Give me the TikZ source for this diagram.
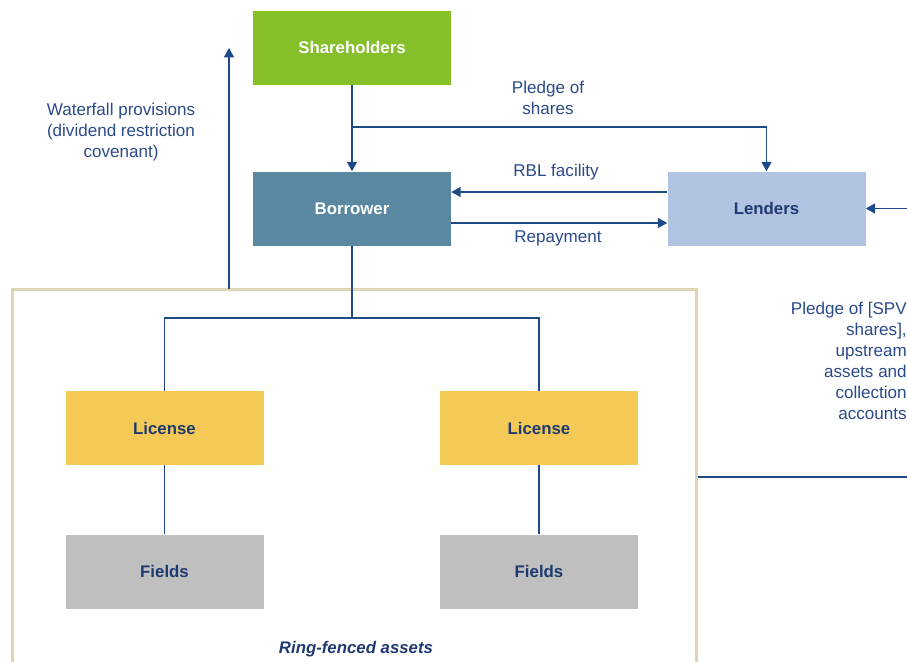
\documentclass[tikz,border=0pt]{standalone}
\usepackage{fontspec}
\setmainfont{Liberation Sans}
\usetikzlibrary{arrows.meta}
\definecolor{shgreen}{HTML}{85BF2A}
\definecolor{borblue}{HTML}{5B88A1}
\definecolor{lendblue}{HTML}{B0C3E0}
\definecolor{licyellow}{HTML}{F5C955}
\definecolor{fieldgray}{HTML}{BFBFBF}
\definecolor{ringbeige}{HTML}{DDD5B3}
\definecolor{linkblue}{HTML}{1F4A8A}
\definecolor{textblue}{HTML}{2B4A8A}
\definecolor{navy}{HTML}{1F3A70}
\begin{document}
\begin{tikzpicture}[x=0.75pt,y=-0.75pt,
    entity/.style={minimum width=148.5pt,minimum height=55.5pt,inner sep=0pt,
      font=\fontsize{12.6}{15}\selectfont\bfseries},
    link/.style={draw=linkblue,line width=1.1pt},
    flow/.style={link,-{Triangle[length=7pt,width=7.5pt]}},
    note/.style={text=textblue,align=center,inner sep=0pt,
      font=\fontsize{12.8}{15.75}\selectfont}]
  \useasboundingbox (0,0) rectangle (907,661);
  % ring-fenced frame (runs past the bottom edge)
  \node [draw=ringbeige,line width=2.25pt,minimum width=513pt,minimum height=308pt,
    inner sep=0pt] (ring) at (354,494.5) {};
  % entities
  \node [entity,fill=shgreen,text=white] (share) at (352,47.5) {Shareholders};
  \node [entity,fill=borblue,text=white] (bor) at (352,208.5) {Borrower};
  \node [entity,fill=lendblue,text=navy] (lend) at (766.5,208.5) {Lenders};
  \node [entity,fill=licyellow,text=navy] (lic1) at (164.5,428) {License};
  \node [entity,fill=licyellow,text=navy] (lic2) at (539,428) {License};
  \node [entity,fill=fieldgray,text=navy] (fld1) at (164.5,571.5) {Fields};
  \node [entity,fill=fieldgray,text=navy] (fld2) at (539,571.5) {Fields};
  % helper coordinates
  \coordinate (split) at (352,127);
  \coordinate (rbl) at (0,192);
  \coordinate (repay) at (0,223);
  \coordinate (bus) at (0,318);
  \coordinate (wfbase) at (229,289);
  \coordinate (wftop) at (229,48);
  \coordinate (secin) at (910,0);
  \coordinate (secout) at (910,477);
  % connectors
  \draw [flow] (share.south) -- (bor.north);
  \draw [flow] (split) -| (lend.north);
  \draw [flow] (lend.west |- rbl) -- (bor.east |- rbl);
  \draw [flow] (bor.east |- repay) -- (lend.west |- repay);
  \draw [flow] (secin |- lend.east) -- (lend.east);
  \draw [flow] (wfbase) -- (wftop);
  \draw [link] (bor.south) -- (bor.south |- bus);
  \draw [link] (lic1.north) |- (bor.south |- bus) -| (lic2.north);
  \draw [link] (lic1.south) -- (fld1.north);
  \draw [link] (lic2.south) -- (fld2.north);
  \draw [link] (ring.east |- secout) -- (secout);
  % labels
  \node [note] (wflabel) at (121,132) {Waterfall provisions\\(dividend restriction\\covenant)};
  \node [note] (pledgelabel) at (548,98) {Pledge of\\shares};
  \node [note] (rbllabel) at (556,172) {RBL facility};
  \node [note] (repaylabel) at (558,238) {Repayment};
  \node [note,align=right,anchor=north east] (seclabel) at (907,302)
    {Pledge of [SPV\\shares],\\upstream\\assets and\\collection\\accounts};
  \node [text=navy,font=\fontsize{12.6}{15}\selectfont\bfseries\itshape] (ringlabel)
    at (356,649) {Ring-fenced assets};
\end{tikzpicture}
\end{document}
